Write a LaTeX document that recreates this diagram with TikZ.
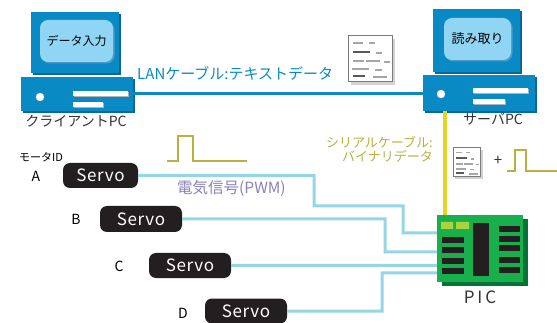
\documentclass[tikz,border=0pt]{standalone}
\usepackage{fontspec}
\setmainfont{Noto Sans CJK JP}
\usetikzlibrary{shadows,calc}

\definecolor{pcblue}{HTML}{0A8AC4}
\definecolor{pcdark}{HTML}{05699A}
\definecolor{screenblue}{HTML}{90D5F4}
\definecolor{screendark}{HTML}{4A9CC4}
\definecolor{wirecyan}{HTML}{95D6E6}
\definecolor{serialyellow}{HTML}{E8D424}
\definecolor{olive}{HTML}{B9B03E}
\definecolor{pwmpurple}{HTML}{8A82B8}
\definecolor{servoblack}{HTML}{231F20}
\definecolor{picgreen}{HTML}{18AF4C}
\definecolor{picdark}{HTML}{007535}
\definecolor{padgreen}{HTML}{A9D43E}
\definecolor{docgray}{HTML}{7A7A7A}

\tikzset{
  monitor/.style={fill=pcblue, draw=none, inner sep=0pt,
    general shadow={fill=pcdark, shadow xshift=2pt, shadow yshift=-2pt}},
  screen/.style={fill=screenblue, draw=none, rounded corners=8pt, inner sep=0pt,
    font=\fontsize{12}{12}\selectfont,
    general shadow={fill=screendark, shadow xshift=1.5pt, shadow yshift=-1.5pt}},
  bar/.style={fill=white, draw=none, inner sep=0pt, minimum height=5pt,
    general shadow={fill=gray!60, shadow xshift=1.2pt, shadow yshift=-1.2pt}},
  servo/.style={fill=servoblack, text=white, rounded corners=7pt, inner sep=0pt,
    minimum width=80pt, minimum height=25pt,
    font=\fontsize{17}{17}\selectfont\addfontfeature{LetterSpace=4}},
  motorid/.style={font=\fontsize{14}{14}\selectfont, inner sep=0pt},
  caption/.style={font=\fontsize{14}{14}\selectfont, inner sep=0pt},
  wire/.style={draw=wirecyan, line width=3pt},
  pulse/.style={draw=olive, line width=2.5pt},
  docline/.style={draw=gray!70, line width=2.3pt},
  docdark/.style={draw=black!65, line width=2.3pt},
  docicon/.pic={
    \fill[gray!35] (3,3) rectangle (47,49);
    \draw[docgray, fill=white, line width=1pt] (0,0) rectangle (44,46);
    \draw[docline] (5,7) -- (15,7) (21,7) -- (27,7);
    \draw[docdark] (5,16) -- (22,16);
    \draw[docline] (28,17) -- (34,17);
    \draw[docline] (5,25) -- (16,25) (18,25) -- (32,25) (36,26) -- (42,26);
    \draw[docline] (4,33) -- (21,33) (27,34) -- (34,34);
    \draw[docdark] (5,40) -- (17,40);
    \draw[docline] (25,41) -- (39,41);
  }
}

\begin{document}
\begin{tikzpicture}[x=1pt, y=-1pt]
\useasboundingbox[fill=white] (0,0) rectangle (557,323);

% ---- client PC ----
\node[monitor, minimum width=88pt, minimum height=61pt] (cmon) at (75,42.5) {};
\node[screen, minimum width=73pt, minimum height=42pt] (cscreen) at (76.5,41) {データ入力};
\node[monitor, minimum width=112pt, minimum height=34pt] (cbase) at (77,94) {};
\fill[white] (40,97) circle (4.2);
\node[bar, minimum width=55pt, anchor=west] (cbar1) at (73,93.5) {};
\node[bar, minimum width=30pt, anchor=west] (cbar2) at (73,104.5) {};
\node[caption, text=black!80] (clabel) at (76,121) {クライアントPC};

% ---- server PC ----
\node[monitor, minimum width=87pt, minimum height=63pt] (smon) at (476.5,40.5) {};
\node[screen, minimum width=67pt, minimum height=42pt, font=\fontsize{13}{13}\selectfont] (sscreen) at (477.5,39) {読み取り};
\node[monitor, minimum width=112pt, minimum height=36pt] (sbase) at (479,93) {};
\fill[white] (441,94) circle (4.2);
\node[bar, minimum width=55pt, anchor=west] (sbar1) at (473,90.5) {};
\node[bar, minimum width=32pt, anchor=west] (sbar2) at (473,101.5) {};
\node[caption, text=black!80] (slabel) at (493,119) {サーバPC};

% ---- LAN cable ----
\draw[pcblue, line width=3pt] (cbase.east) -- (cbase.east -| sbase.west);
\node[caption, text=pcblue, anchor=west, font=\fontsize{15}{15}\selectfont] (lanlabel) at (137,74) {LANケーブル:テキストデータ};
\pic at (348,36) {docicon};

% ---- PIC board ----
\node[fill=picgreen, inner sep=0pt, minimum width=86pt, minimum height=67pt,
  general shadow={fill=picdark, shadow xshift=5pt, shadow yshift=-4pt}] (pic) at (480,248.5) {};
\fill[padgreen] (441,222) rectangle (453,229) (456,222) rectangle (469,229);
\fill[servoblack] (473,223) rectangle (489,276);
\foreach \yy in {240,250,261,271} \fill[servoblack] (442,\yy-2.8) rectangle (464,\yy+2.8);
\foreach \yy in {229,239,248,260,270} \fill[servoblack] (499,\yy-2.8) rectangle (520,\yy+2.8);
\node[font=\fontsize{17}{17}\selectfont, text=black!80, inner sep=0pt] (piclabel) at (480,297) {P\,I\,C};

% ---- serial cable ----
\draw[serialyellow, line width=3.5pt] ($(sbase.south west)+(22,0)$) -- ($(pic.north west)+(8,0)$);
\node[font=\fontsize{13}{14}\selectfont, text=olive, align=right, anchor=east, inner sep=0pt] (seriallabel)
  at (433,149) {シリアルケーブル:\\バイナリデータ};
\pic[scale=0.63, docline/.append style={line width=1.6pt}, docdark/.append style={line width=1.6pt}] at (453,148) {docicon};
\node[font=\fontsize{15}{15}\selectfont, text=black!80, inner sep=0pt] (plus) at (498,161) {+};
\draw[pulse] (507,171) -- (515,171) -- (515,150) -- (526,150) -- (526,171) -- (557,171);

% ---- PWM pulse ----
\draw[pulse] (167,161) -- (178,161) -- (178,136) -- (193,136) -- (193,161) -- (247,161);
\node[font=\fontsize{15.5}{15.5}\selectfont, text=pwmpurple, inner sep=0pt, anchor=west] (pwmlabel) at (177,188) {電気信号(PWM)};

% ---- servos ----
\node[servo, minimum width=75pt] (sA) at (100.5,175.5) {Servo};
\node[servo, minimum width=82pt, minimum height=26pt] (sB) at (141,219) {Servo};
\node[servo, minimum width=82pt] (sC) at (190,265.5) {Servo};
\node[servo, minimum width=82pt] (sD) at (246,311) {Servo};

\node[font=\fontsize{11}{11}\selectfont, inner sep=0pt] (idlabel) at (41,157) {モータID};
\node[motorid] (lA) at (36,176) {A};
\node[motorid] (lB) at (76,219) {B};
\node[motorid] (lC) at (119,266) {C};
\node[motorid] (lD) at (183,313) {D};

% ---- PWM wires ----
\draw[wire] (sA.east) -- (314,175.5) -- (314,206) -- (403,206) -- (403,233) -- ($(pic.north west)+(0,18)$);
\draw[wire] (sB.east) -- (385,219) -- (385,252) -- ($(pic.north west)+(0,37)$);
\draw[wire] (sC.east) -- ($(pic.north west)+(0,50.5)$);
\draw[wire] (sD.east) -- (382,311) -- (382,273) -- ($(pic.north west)+(0,58)$);
\end{tikzpicture}
\end{document}
